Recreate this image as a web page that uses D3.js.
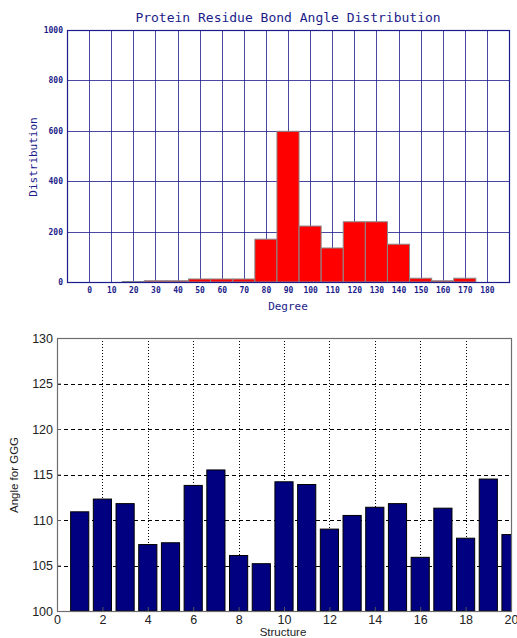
<!DOCTYPE html>
<html>
<head>
<meta charset="utf-8">
<script src="https://cdn.jsdelivr.net/npm/d3@7"></script>
<style>
  body { margin: 0; background: #fff; }
  svg { display: block; }
</style>
</head>
<body>
<svg id="chart" width="517" height="638"></svg>
<script>
// top chart: bond angle histogram
let degrees = [0, 10, 20, 30, 40, 50, 60, 70, 80, 90, 100, 110, 120, 130, 140, 150, 160, 170, 180];
let distribution = [0, 0, 2, 5, 5, 12, 12, 12, 170, 598, 222, 135, 239, 239, 150, 15, 5, 15, 0];
let distTicks = [0, 200, 400, 600, 800, 1000];

// bottom chart: angle per structure
let structures = [1, 2, 3, 4, 5, 6, 7, 8, 9, 10, 11, 12, 13, 14, 15, 16, 17, 18, 19, 20];
let angles = [110.9, 112.3, 111.8, 107.3, 107.5, 113.8, 115.5, 106.1, 105.2, 114.2,
              113.9, 109.0, 110.5, 111.4, 111.8, 105.9, 111.3, 108.0, 114.5, 108.4];
let structTicks = [0, 2, 4, 6, 8, 10, 12, 14, 16, 18, 20];
let angleTicks = [100, 105, 110, 115, 120, 125, 130];

let svg = d3.select("#chart");
let navy = "#1c1c8a";
let mono = "'DejaVu Sans Mono', 'Liberation Mono', monospace";
let sans = "'Liberation Sans', Arial, sans-serif";

// ---------- top chart ----------
let histArea = {left: 67, right: 509, top: 30, bottom: 282};
let xdeg = d3.scaleLinear().domain([-10, 190]).range([histArea.left, histArea.right]);
let ydist = d3.scaleLinear().domain([0, 1000]).range([histArea.bottom, histArea.top]);

let g1 = svg.append("g");

// vertical grid at each degree
g1.selectAll(".vgrid").data(degrees).enter().append("line")
    .attr("x1", d => Math.round(xdeg(d)) + 0.5).attr("x2", d => Math.round(xdeg(d)) + 0.5)
    .attr("y1", histArea.top).attr("y2", histArea.bottom)
    .style("stroke", navy).style("stroke-opacity", 0.8);

g1.selectAll(".hgrid").data(distTicks).enter().append("line")
    .attr("x1", histArea.left).attr("x2", histArea.right)
    .attr("y1", d => Math.round(ydist(d)) + 0.5).attr("y2", d => Math.round(ydist(d)) + 0.5)
    .style("stroke", navy).style("stroke-opacity", 0.8);

let barW = xdeg(10) - xdeg(0);
g1.selectAll(".bar").data(distribution).enter().append("rect")
    .attr("x", (d, i) => xdeg(degrees[i]) - barW / 2)
    .attr("y", d => ydist(d))
    .attr("width", barW)
    .attr("height", d => ydist(0) - ydist(d))
    .style("fill", "#ff0000")
    .style("stroke", "#8a8a8a")
    .style("stroke-width", 1)
    .style("display", d => d > 0 ? null : "none");

// frame
g1.append("rect")
    .attr("x", histArea.left + 0.5).attr("y", histArea.top + 0.5)
    .attr("width", histArea.right - histArea.left).attr("height", histArea.bottom - histArea.top)
    .style("fill", "none").style("stroke", navy).style("stroke-width", 1.2);

let yAxis1 = d3.axisLeft(ydist).tickValues(distTicks).tickFormat(d3.format("d")).tickSize(0).tickPadding(4);
g1.append("g").attr("transform", "translate(" + histArea.left + ",0)").call(yAxis1)
    .call(g => g.select(".domain").remove())
    .selectAll("text")
    .style("font-family", mono).style("font-size", "8px").style("font-weight", "bold").style("fill", navy);

let xAxis1 = d3.axisBottom(xdeg).tickValues(degrees).tickSize(0).tickPadding(5);
g1.append("g").attr("transform", "translate(0," + histArea.bottom + ")").call(xAxis1)
    .call(g => g.select(".domain").remove())
    .selectAll("text")
    .style("font-family", mono).style("font-size", "8px").style("font-weight", "bold").style("fill", navy);

svg.append("text")
    .attr("x", 288).attr("y", 22)
    .style("text-anchor", "middle")
    .style("font-family", mono).style("font-size", "13px").style("fill", navy)
    .text("Protein Residue Bond Angle Distribution");

svg.append("text")
    .attr("x", 288).attr("y", 310)
    .style("text-anchor", "middle")
    .style("font-family", mono).style("font-size", "11px").style("fill", navy)
    .text("Degree");

svg.append("text")
    .attr("transform", "translate(37,157) rotate(-90)")
    .style("text-anchor", "middle")
    .style("font-family", mono).style("font-size", "11px").style("fill", navy)
    .text("Distribution");

// ---------- bottom chart ----------
let barArea = {left: 57, right: 511, top: 338, bottom: 611};
let xs = d3.scaleLinear().domain([0, 20]).range([barArea.left, barArea.right]);
let ya = d3.scaleLinear().domain([100, 130]).range([barArea.bottom, barArea.top]);

let g2 = svg.append("g");

g2.append("clipPath").attr("id", "plotclip").append("rect")
    .attr("x", barArea.left).attr("y", barArea.top)
    .attr("width", barArea.right - barArea.left).attr("height", barArea.bottom - barArea.top);

g2.selectAll(".hgrid2").data(angleTicks.slice(1, -1)).enter().append("line")
    .attr("x1", barArea.left).attr("x2", barArea.right)
    .attr("y1", d => Math.round(ya(d)) + 0.5).attr("y2", d => Math.round(ya(d)) + 0.5)
    .style("stroke", "#000").style("stroke-dasharray", "4,3");

g2.selectAll(".vgrid2").data(structTicks.slice(1, -1)).enter().append("line")
    .attr("x1", d => Math.round(xs(d)) + 0.5).attr("x2", d => Math.round(xs(d)) + 0.5)
    .attr("y1", barArea.top).attr("y2", barArea.bottom)
    .style("stroke", "#000").style("stroke-dasharray", "1,2");

let bw = xs(0.8) - xs(0);
g2.append("g").attr("clip-path", "url(#plotclip)")
    .selectAll(".bar2").data(angles).enter().append("rect")
    .attr("x", (d, i) => xs(structures[i]) - bw / 2)
    .attr("y", d => ya(d))
    .attr("width", bw)
    .attr("height", d => ya(100) - ya(d))
    .style("fill", "#000080")
    .style("stroke", "#000")
    .style("stroke-width", 1);

let yAxis2 = d3.axisLeft(ya).tickValues(angleTicks).tickSize(-4).tickPadding(4);
g2.append("g").attr("transform", "translate(" + barArea.left + ",0)").call(yAxis2)
    .call(g => g.select(".domain").remove())
    .call(g => g.selectAll("line").style("stroke", "#555"))
    .selectAll("text")
    .style("font-family", sans).style("font-size", "12.5px").style("fill", "#222");

let xAxis2 = d3.axisBottom(xs).tickValues(structTicks).tickSize(-4).tickPadding(4);
g2.append("g").attr("transform", "translate(0," + barArea.bottom + ")").call(xAxis2)
    .call(g => g.select(".domain").remove())
    .call(g => g.selectAll("line").style("stroke", "#555"))
    .selectAll("text")
    .style("font-family", sans).style("font-size", "12.5px").style("fill", "#222");

g2.append("rect")
    .attr("x", barArea.left + 0.5).attr("y", barArea.top + 0.5)
    .attr("width", barArea.right - barArea.left).attr("height", barArea.bottom - barArea.top)
    .style("fill", "none").style("stroke", "#6e6e6e").style("stroke-width", 1.2);

svg.append("text")
    .attr("x", 283).attr("y", 636)
    .style("text-anchor", "middle")
    .style("font-family", sans).style("font-size", "11.5px").style("fill", "#222")
    .text("Structure");

svg.append("text")
    .attr("transform", "translate(18,475) rotate(-90)")
    .style("text-anchor", "middle")
    .style("font-family", sans).style("font-size", "11.5px").style("fill", "#222")
    .text("Angle for GGG");
</script>
</body>
</html>
